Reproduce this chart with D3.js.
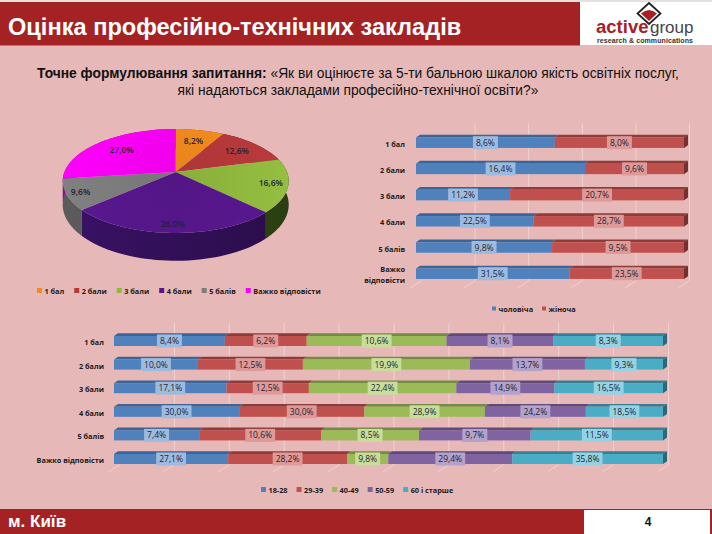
<!DOCTYPE html>
<html>
<head>
<meta charset="utf-8">
<script src="https://cdn.jsdelivr.net/npm/d3@7"></script>
<style>
html, body { margin: 0; padding: 0; background: #e6b8b7; }
svg { display: block; font-family: "Liberation Sans", Arial, sans-serif; }
.lbl { font-family: "Open Sans", "Noto Sans", sans-serif; font-size: 8.5px; fill: #1d2433; }
.cat { font-family: "Open Sans", "Noto Sans", sans-serif; font-size: 7.3px; font-weight: 700; fill: #1a1a1a; }
</style>
</head>
<body>
<svg id="chart" width="712" height="534"></svg>
<script>
// pie
var pieCats = ["1 бал", "2 бали", "3 бали", "4 бали", "5 балів", "Важко відповісти"]
var pieValues = [8.2, 12.6, 16.6, 26.0, 9.6, 27.0]
var pieColors = ["#f28a1e", "#b5383a", "#8fb83e", "#56178c", "#7c7c7c", "#fb00f5"]
var pieSides = ["#b5661a", "#7d2a2a", "#3a5518", "#3a1266", "#5c5c5c", "#a000a0"]

// gender bars
var genderCats = ["1 бал", "2 бали", "3 бали", "4 бали", "5 балів", "Важко відповісти"]
var genderNames = ["чоловіча", "жіноча"]
var male = [8.6, 16.4, 11.2, 22.5, 9.8, 31.5]
var female = [8.0, 9.6, 20.7, 28.7, 9.5, 23.5]

// age bars
var ageNames = ["18-28", "29-39", "40-49", "50-59", "60 і старше"]
var age18 = [8.4, 10.0, 17.1, 30.0, 7.4, 27.1]
var age29 = [6.2, 12.5, 12.5, 30.0, 10.6, 28.2]
var age40 = [10.6, 19.9, 22.4, 28.9, 8.5, 9.8]
var age50 = [8.1, 13.7, 14.9, 24.2, 9.7, 29.4]
var age60 = [8.3, 9.3, 16.5, 18.5, 11.5, 35.8]

var colors = ["#4f81bd", "#c0504d", "#9bbb59", "#8064a2", "#4bacc6"]
var tops = ["#3a6596", "#8e3b39", "#748c42", "#5f4a79", "#377f93"]
var ends = ["#2f5480", "#74302e", "#5e7236", "#4d3c63", "#2d6878"]
var labelBg = ["#9dbbdf", "#dd9a98", "#c9dd9b", "#b3a2cc", "#95d2e3"]

var svg = d3.select("#chart")
var red = "#a52224"

// page
svg.append("rect").attr("width", 712).attr("height", 534).attr("fill", "#e6b8b7")
svg.append("rect").attr("width", 712).attr("height", 2).attr("fill", "#e4e0e0")
svg.append("rect").attr("y", 2).attr("width", 580).attr("height", 43.5).attr("fill", red)
svg.append("rect").attr("x", 580).attr("y", 2).attr("width", 132).attr("height", 43).attr("fill", "#fff")
svg.append("rect").attr("y", 509).attr("width", 712).attr("height", 25).attr("fill", red)
svg.append("rect").attr("x", 584).attr("y", 510).attr("width", 126).attr("height", 24).attr("fill", "#fff")

svg.append("text").attr("x", 8).attr("y", 34.5).attr("fill", "#fff")
    .attr("font-size", 23.6).attr("font-weight", 700).text("Оцінка професійно-технічних закладів")
svg.append("text").attr("x", 8).attr("y", 527).attr("fill", "#fff")
    .attr("font-size", 17).attr("font-weight", 700).text("м. Київ")
svg.append("text").attr("x", 648).attr("y", 526).attr("text-anchor", "middle").attr("fill", "#111")
    .attr("font-size", 12).attr("font-weight", 700).text("4")

// logo
var logo = svg.append("g").attr("transform", "translate(649,13.5)")
logo.append("path").attr("d", "M0,-10.5L11.5,0L0,10.5L-11.5,0Z").attr("fill", "#fff").attr("stroke", "#222").attr("stroke-width", 1.8)
logo.append("path").attr("d", "M-8,0Q0,-7 8,0L0,7.5Z").attr("fill", red)
svg.append("text").attr("x", 596).attr("y", 33).attr("font-size", 18.5).attr("font-weight", 700)
    .attr("fill", red).text("active")
svg.append("text").attr("x", 650).attr("y", 33).attr("font-size", 17).attr("fill", "#444").text("group")
svg.append("text").attr("x", 597).attr("y", 43).attr("font-size", 7).attr("font-weight", 700)
    .attr("fill", "#333").attr("textLength", 96).text("research & communications")

// question
var q = svg.append("text").attr("x", 358).attr("y", 78).attr("text-anchor", "middle")
    .attr("font-size", 13.8).attr("fill", "#111")
q.append("tspan").attr("font-weight", 700).text("Точне формулювання запитання: ")
q.append("tspan").text("«Як ви оцінюєте за 5-ти бальною шкалою якість освітніх послуг,")
svg.append("text").attr("x", 358).attr("y", 95).attr("text-anchor", "middle")
    .attr("font-size", 13.8).attr("fill", "#111").text("які надаються закладами професійно-технічної освіти?»")

// pie, a circle seen in perspective
var defs = svg.append("defs")
var pieX = 175.7, pieY = 172, k = 0.173, ax = 111.3, ay = 50.4, depth = 23
var labelRadius = [0.7, 0.75, 0.85, 0.88, 0.88, 0.7]
function project(a, r, drop) {
    var u = r * Math.sin(a), v = -r * Math.cos(a), w = 1 - k * v
    return [pieX + ax * u / w, pieY + ay * v / w + (drop ? depth / w : 0)]
}
var arcs = d3.pie().sort(null)(pieValues)
var line = d3.line()

function rim(d, drop) {
    return d3.range(0, 41).map(i => project(d.startAngle + (d.endAngle - d.startAngle) * i / 40, 1, drop))
}

pieSides.forEach((c, i) => {
    var g = defs.append("linearGradient").attr("id", "side" + i).attr("gradientUnits", "userSpaceOnUse")
        .attr("x1", 62).attr("x2", 290).attr("y1", 0).attr("y2", 0)
    g.append("stop").attr("offset", 0).attr("stop-color", c)
    g.append("stop").attr("offset", 1).attr("stop-color", d3.color(c).darker(0.9))
    var t = defs.append("radialGradient").attr("id", "top" + i).attr("gradientUnits", "userSpaceOnUse")
        .attr("cx", pieX).attr("cy", pieY + 10).attr("r", 120)
    t.append("stop").attr("offset", 0).attr("stop-color", d3.color(pieColors[i]).darker(0.15))
    t.append("stop").attr("offset", 1).attr("stop-color", d3.color(pieColors[i]).brighter(0.12))
})

svg.append("g").selectAll("path").data(arcs).enter().append("path")
    .attr("fill", (d, i) => "url(#side" + i + ")")
    .attr("d", d => line(rim(d, false).concat(rim(d, true).reverse())) + "Z")

svg.append("g").selectAll("path").data(arcs).enter().append("path")
    .attr("fill", (d, i) => "url(#top" + i + ")")
    .attr("d", d => line([[pieX, pieY]].concat(rim(d, false))) + "Z")

svg.append("g").selectAll("text").data(arcs).enter().append("text")
    .attr("class", "lbl").attr("text-anchor", "middle").style("font-weight", 600)
    .attr("transform", (d, i) => {
        var p = project((d.startAngle + d.endAngle) / 2, labelRadius[i], false)
        return "translate(" + p[0] + "," + (p[1] + 3) + ")"
    })
    .text(d => d.value.toFixed(1).replace(".", ",") + "%")

// legend, each item placed after the previous text
function legend(names, cols, startX, y, gap, swatch) {
    var g = svg.append("g"), x = startX
    names.forEach((n, i) => {
        g.append("rect").attr("x", x).attr("y", y - swatch / 2 - 0.5).attr("width", swatch).attr("height", swatch).attr("fill", cols[i])
        var t = g.append("text").attr("class", "cat").attr("x", x + swatch + 2.5).attr("y", y + 2.5).text(n)
        x += swatch + 2.5 + t.node().getComputedTextLength() + gap
    })
}
legend(pieCats, pieColors, 37, 291, 10, 5)

// stacked 3d bars
function bars(o) {
    var keys = d3.range(o.series.length)
    var rows = o.cats.map((c, i) => {
        var r = { cat: c }
        keys.forEach(s => { r[s] = o.series[s][i] })
        return r
    })
    var stacked = d3.stack().keys(keys).offset(d3.stackOffsetExpand)(rows)
    var x = d3.scaleLinear().domain([0, 1]).range(o.xRange)
    var y = d3.scaleBand().domain(o.cats).range(o.yRange).paddingInner(o.pad).paddingOuter(o.pad / 2)
    var off = 4, lift = 2.8, h = y.bandwidth()

    // back wall lines
    var gy = o.yRange
    svg.append("g").selectAll("path").data(d3.range(o.tickStep, 1.0001, o.tickStep)).enter().append("path")
        .attr("fill", "none").attr("stroke", "#efd3d2").attr("stroke-width", 1)
        .attr("d", d => line([[x(d) + 5.5, gy[0] - 6], [x(d) + 5.5, gy[1] - 6], [x(d) - 5.5, gy[1] + 1]]))
    svg.append("path").attr("fill", "none").attr("stroke", "#efd3d2")
        .attr("d", line([[x(0) + 5.5, gy[1] - 6], [x(0) - 5.5, gy[1] + 1]]))

    var layer = svg.append("g").selectAll("g").data(stacked).enter().append("g")

    // top face
    layer.selectAll(".tf").data(s => s.map(d => ({ d: d, s: s.index }))).enter().append("path")
        .attr("fill", e => tops[e.s])
        .attr("d", e => {
            var t = y(e.d.data.cat)
            return line([[x(e.d[0]), t], [x(e.d[0]) + off, t - lift], [x(e.d[1]) + off, t - lift], [x(e.d[1]), t]]) + "Z"
        })

    // front face
    layer.selectAll(".ff").data(s => s.map(d => ({ d: d, s: s.index }))).enter().append("rect")
        .attr("fill", e => colors[e.s])
        .attr("x", e => x(e.d[0])).attr("y", e => y(e.d.data.cat))
        .attr("width", e => x(e.d[1]) - x(e.d[0])).attr("height", h)

    // end face of the last segment
    var last = stacked[stacked.length - 1]
    svg.append("g").selectAll("path").data(last).enter().append("path")
        .attr("fill", ends[last.index])
        .attr("d", d => {
            var t = y(d.data.cat), r = x(1)
            return line([[r, t], [r + off, t - lift], [r + off, t + h - lift], [r, t + h]]) + "Z"
        })

    // value labels on a lighter box
    var lab = svg.append("g").selectAll("g").data(stacked).enter().append("g")
        .selectAll("g").data(s => s.map((d, i) => ({ d: d, s: s.index, v: o.series[s.index][i] }))).enter().append("g")
        .attr("transform", e => "translate(" + x((e.d[0] + e.d[1]) / 2) + "," + (y(e.d.data.cat) + h / 2) + ")")
    var txt = lab.append("text").attr("class", "lbl").attr("text-anchor", "middle").attr("y", 3)
        .text(e => e.v.toFixed(1).replace(".", ",") + "%")
    lab.insert("rect", "text")
        .attr("fill", e => labelBg[e.s])
        .attr("x", function () { return -this.parentNode.querySelector("text").getComputedTextLength() / 2 - 3 })
        .attr("width", function () { return this.parentNode.querySelector("text").getComputedTextLength() + 6 })
        .attr("y", -6.5).attr("height", 13)

    // row names
    svg.append("g").selectAll("text").data(o.cats).enter().append("text")
        .attr("class", "cat").attr("text-anchor", "end").attr("x", o.labelX)
        .each(function (c) {
            var el = d3.select(this), cy = y(c) + h / 2 + 4
            var parts = o.wrap && c.length > 8 ? c.split(" ") : [c]
            parts.forEach((p, i) => {
                el.append("tspan").attr("x", o.labelX).attr("y", cy + (i - (parts.length - 1) / 2) * 10.5).text(p)
            })
        })
}

bars({
    cats: genderCats, series: [male, female],
    xRange: [416, 684], yRange: [129.6, 286.8], pad: 0.6,
    tickStep: 0.2, labelX: 405, wrap: true
})
legend(genderNames, colors, 492, 309, 9, 4)

bars({
    cats: genderCats, series: [age18, age29, age40, age50, age60],
    xRange: [114, 663], yRange: [329.2, 470.8], pad: 0.576,
    tickStep: 0.1, labelX: 104, wrap: false
})
legend(ageNames, colors, 261, 490, 9, 5)
</script>
</body>
</html>
